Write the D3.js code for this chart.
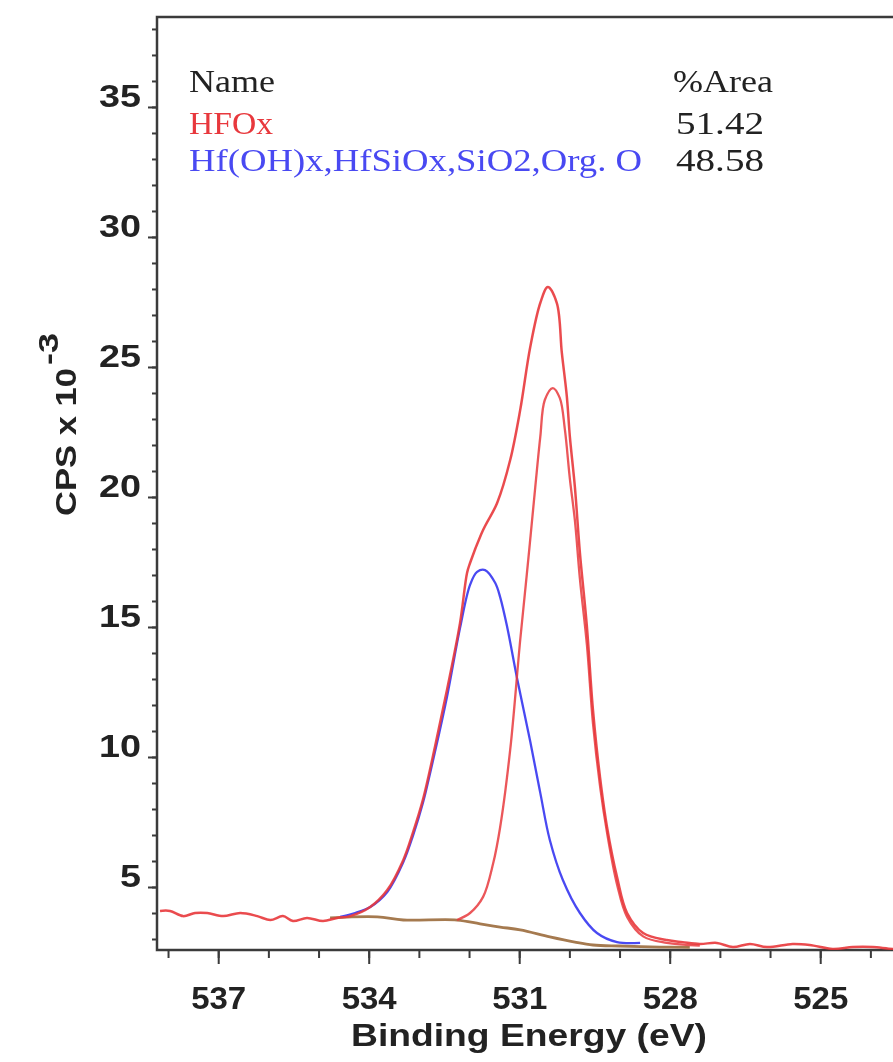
<!DOCTYPE html>
<html><head><meta charset="utf-8">
<script src="https://cdn.jsdelivr.net/npm/d3@7"></script>
<style>html,body{margin:0;padding:0;background:#fff;}</style>
</head><body>
<script>
// ---- data (binding energy eV, CPS x 10^-3) ----
const envelope = [[538.16,4.08],[537.96,4.08],[537.70,3.88],[537.46,4.0],[537.22,4.0],[536.90,3.88],[536.56,4.0],[536.22,3.88],[535.96,3.73],[535.71,3.88],[535.51,3.69],[535.23,3.81],[534.91,3.69],[534.63,3.81],[534.37,3.88],[533.97,4.23],[533.63,4.88],[533.31,6.04],[533.12,7.08],[532.92,8.35],[532.68,10.38],[532.44,12.58],[532.18,15.15],[532.04,17.08],[531.98,17.46],[531.72,18.73],[531.44,19.77],[531.18,21.42],[530.98,23.35],[530.78,25.77],[530.58,27.46],[530.43,28.08],[530.25,27.46],[530.15,25.54],[530.05,23.85],[529.99,22.31],[529.89,20.38],[529.79,17.85],[529.65,15.0],[529.53,11.81],[529.39,9.23],[529.25,7.31],[529.05,5.38],[528.85,4.0],[528.53,3.23],[528.06,2.96],[527.74,2.88],[527.40,2.81],[527.06,2.85],[526.74,2.69],[526.40,2.81],[526.06,2.69],[525.55,2.81],[525.21,2.77],[524.75,2.62],[524.35,2.69],[523.95,2.69],[523.55,2.62],[523.30,2.65]];
const hfoxPeak = [[532.24,3.73],[531.98,4.0],[531.72,4.62],[531.52,5.9],[531.38,7.3],[531.18,10.27],[530.98,14.5],[530.82,17.58],[530.68,20.38],[530.58,22.31],[530.49,23.73],[530.33,24.19],[530.19,23.8],[530.09,22.6],[529.99,20.7],[529.89,19.1],[529.79,16.85],[529.65,14.3],[529.53,11.3],[529.39,8.9],[529.25,7.1],[529.05,5.1],[528.85,3.85],[528.53,3.1],[528.06,2.85],[527.40,2.75]];
const hydroxPeak = [[534.57,3.85],[534.27,4.0],[533.97,4.23],[533.63,4.81],[533.31,5.96],[533.12,6.96],[532.92,8.23],[532.68,10.19],[532.44,12.31],[532.18,14.96],[531.98,16.62],[531.84,17.12],[531.68,17.19],[531.48,16.7],[531.38,16.15],[531.24,15.0],[531.04,13.0],[530.78,10.6],[530.58,8.62],[530.39,6.81],[530.13,5.27],[529.79,4.0],[529.45,3.23],[529.05,2.88],[528.59,2.85]];
const background = [[534.77,3.81],[533.83,3.85],[533.31,3.73],[532.24,3.73],[531.78,3.58],[531.38,3.46],[530.98,3.35],[530.39,3.08],[529.89,2.88],[529.53,2.77],[528.99,2.73],[528.20,2.69],[527.60,2.68]];

const xMajorTicks = [537,534,531,528,525];
const xMinorTicks = [538,537,536,535,534,533,532,531,530,529,528,527,526,525,524];
const yMajorTicks = [5,10,15,20,25,30,35];
const yMinorTicks = d3.range(3,39);

const legendHeader = ["Name","%Area"];
const legendNames = ["HFOx","Hf(OH)x,HfSiOx,SiO2,Org. O"];
const legendAreas = ["51.42","48.58"];

// ---- layout ----
const W = 893, H = 1062;
const L = 157, T = 17, R = 905, B = 950;
const red = "#e8383c", blue = "#4a4af2", brown = "#a57a50", axisCol = "#3a3a3a";

const svg = d3.select("body").append("svg").attr("width",W).attr("height",H);
const defs = svg.append("defs");
defs.append("filter").attr("id","soft").append("feGaussianBlur").attr("stdDeviation",0.7);
defs.append("clipPath").attr("id","clip").append("rect").attr("x",L).attr("y",T).attr("width",R-L).attr("height",B-T);

const root = svg.append("g").attr("filter","url(#soft)");

const x = d3.scaleLinear().domain([538.22,523.31]).range([L,R]);
const y = d3.scaleLinear().domain([2.577,38.46]).range([B,T]);

// frame
root.append("rect").attr("x",L).attr("y",T).attr("width",R-L).attr("height",B-T)
  .attr("fill","none").attr("stroke",axisCol).attr("stroke-width",2.5);

// axes
const sans = "'Liberation Sans', Arial, sans-serif";
const yMinor = root.append("g").attr("transform",`translate(${L},0)`)
  .call(d3.axisLeft(y).tickValues(yMinorTicks).tickSize(5).tickFormat(""));
const yMajor = root.append("g").attr("transform",`translate(${L},0)`)
  .call(d3.axisLeft(y).tickValues(yMajorTicks).tickSize(9).tickPadding(7));
const xMinor = root.append("g").attr("transform",`translate(0,${B})`)
  .call(d3.axisBottom(x).tickValues(xMinorTicks).tickSize(8).tickFormat(""));
const xMajor = root.append("g").attr("transform",`translate(0,${B})`)
  .call(d3.axisBottom(x).tickValues(xMajorTicks).tickSize(14).tickFormat(d3.format("d")));
[yMinor,yMajor,xMinor,xMajor].forEach(g=>{
  g.select(".domain").remove();
  g.selectAll(".tick line").attr("stroke",axisCol).attr("stroke-width",2);
});
yMajor.selectAll(".tick text").attr("dy","0").attr("font-family",sans).attr("font-weight","bold")
  .attr("font-size",31).attr("fill","#222")
  .attr("textLength",d=>String(d).length*21).attr("lengthAdjust","spacingAndGlyphs");
xMajor.selectAll(".tick text").attr("dy","0").attr("y",59).attr("font-family",sans).attr("font-weight","bold")
  .attr("font-size",32).attr("fill","#222")
  .attr("textLength",55).attr("lengthAdjust","spacingAndGlyphs");

// axis titles
root.append("text").attr("x",529).attr("y",1046).attr("text-anchor","middle")
  .attr("font-family",sans).attr("font-weight","bold").attr("font-size",32).attr("fill","#222")
  .attr("textLength",356).attr("lengthAdjust","spacingAndGlyphs").text("Binding Energy (eV)");
root.append("text").attr("transform","translate(76,442) rotate(-90)").attr("text-anchor","middle")
  .attr("font-family",sans).attr("font-weight","bold").attr("font-size",30).attr("fill","#222")
  .attr("textLength",148).attr("lengthAdjust","spacingAndGlyphs").text("CPS x 10");
root.append("text").attr("transform","translate(58,365) rotate(-90)").attr("text-anchor","start")
  .attr("font-family",sans).attr("font-weight","bold").attr("font-size",28).attr("fill","#222")
  .attr("textLength",32).attr("lengthAdjust","spacingAndGlyphs").text("-3");

// curves
const plot = root.append("g").attr("clip-path","url(#clip)");
const line = d3.line().x(d=>x(d[0])).y(d=>y(d[1])).curve(d3.curveCatmullRom.alpha(0.5));
plot.append("path").datum(background).attr("d",line).attr("fill","none").attr("stroke",brown).attr("stroke-width",2.8);
plot.append("path").datum(hydroxPeak).attr("d",line).attr("fill","none").attr("stroke",blue).attr("stroke-width",2.3);
plot.append("path").datum(hfoxPeak).attr("d",line).attr("fill","none").attr("stroke",red).attr("stroke-width",2.3).attr("stroke-opacity",0.85);
plot.append("path").datum(envelope).attr("d",line).attr("fill","none").attr("stroke",red).attr("stroke-width",2.5).attr("stroke-opacity",0.9);

// legend table
const serif = "'Liberation Serif', 'Times New Roman', serif";
const leg = root.append("g").attr("font-family",serif).attr("font-size",32);
const rowsY = [92,134,171];
leg.append("text").attr("x",189).attr("y",rowsY[0]).attr("fill","#222")
  .attr("textLength",86).attr("lengthAdjust","spacingAndGlyphs").text(legendHeader[0]);
leg.append("text").attr("x",673).attr("y",rowsY[0]).attr("fill","#222")
  .attr("textLength",100).attr("lengthAdjust","spacingAndGlyphs").text(legendHeader[1]);
const nameLens = [84,453], nameCols = [red,blue];
legendNames.forEach((n,i)=>{
  leg.append("text").attr("x",189).attr("y",rowsY[i+1]).attr("fill",nameCols[i])
    .attr("textLength",nameLens[i]).attr("lengthAdjust","spacingAndGlyphs").text(n);
  leg.append("text").attr("x",676).attr("y",rowsY[i+1]).attr("fill","#222")
    .attr("textLength",88).attr("lengthAdjust","spacingAndGlyphs").text(legendAreas[i]);
});
</script>
</body></html>
